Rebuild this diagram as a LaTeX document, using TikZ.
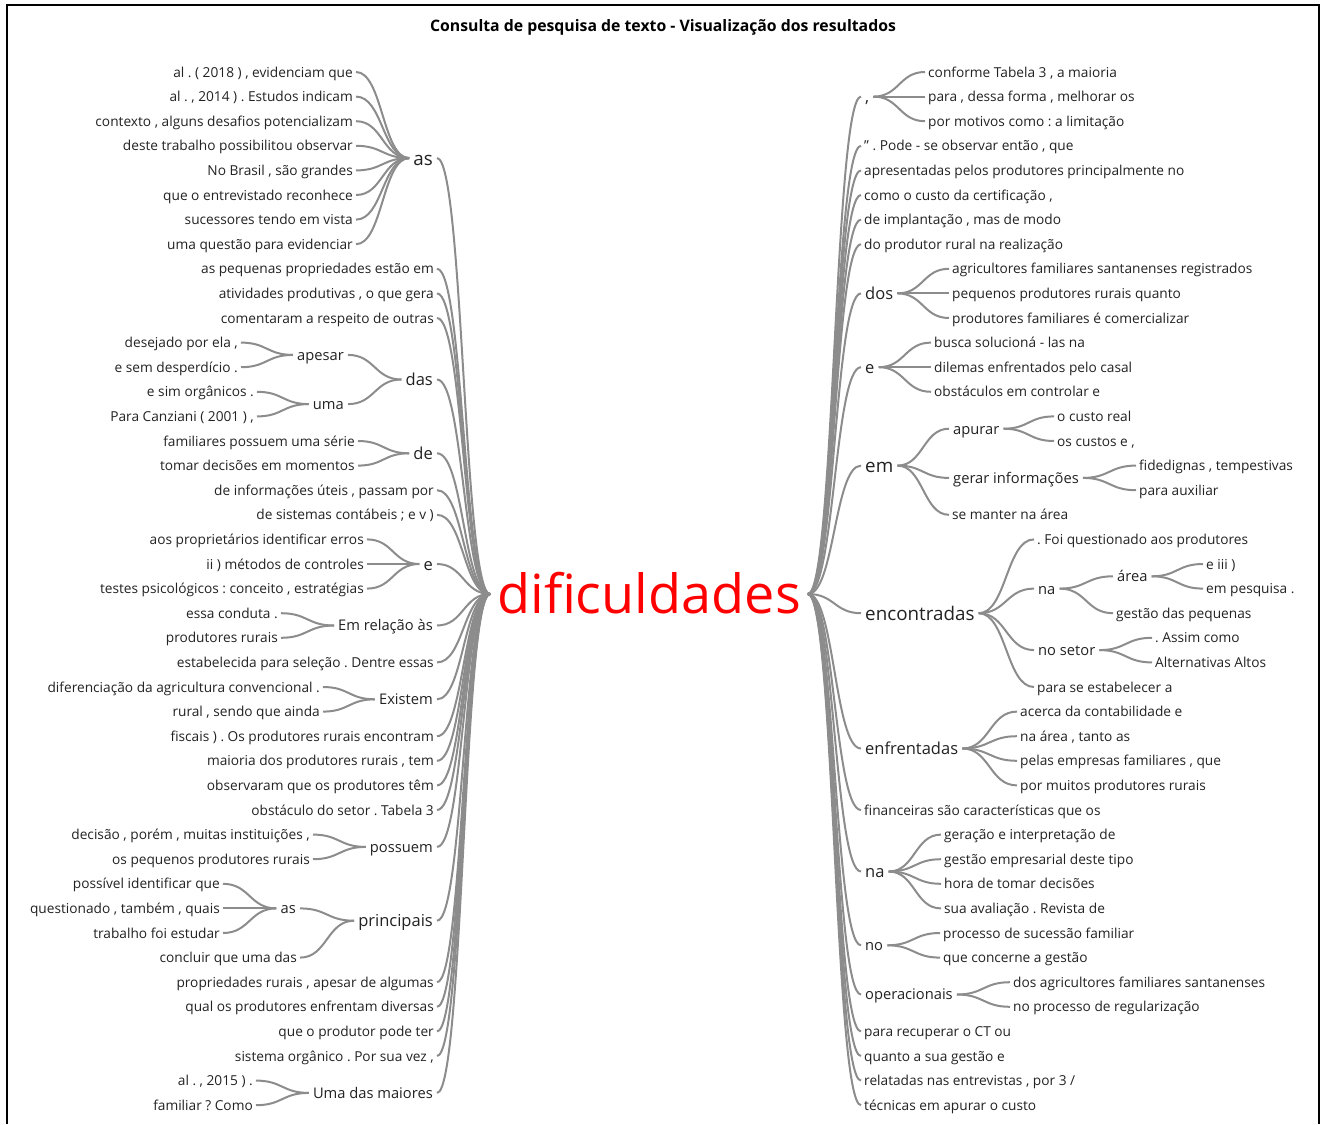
\documentclass[tikz,border=0pt]{standalone}
\usepackage{fontspec}
\setmainfont{Open Sans}
\usetikzlibrary{calc}
\frenchspacing

\definecolor{linkgray}{HTML}{8C8C8C}
\definecolor{wordgray}{HTML}{222222}
\definecolor{rootred}{HTML}{FF0000}

% y position of leaf row #1 (pixels from the top)
\newcommand{\rowy}[1]{72+24.6*(#1-1)}

\begin{document}
\begin{tikzpicture}[
x=1pt, y=-1pt,
word/.style={text=wordgray, inner xsep=3pt, inner ysep=0pt, text depth=0pt},
lf/.style={word, font=\fontsize{13.7}{16}\selectfont, text height=10.1pt},
mA/.style={word, font=\fontsize{14.7}{17}\selectfont, text height=10.9pt, inner xsep=4pt},
mB/.style={word, font=\fontsize{16.5}{19}\selectfont, text height=12.2pt, inner xsep=4pt},
mC/.style={word, font=\fontsize{18.8}{22}\selectfont, text height=13.9pt, inner xsep=4pt},
rootword/.style={text=rootred, font=\fontsize{54}{60}\selectfont, text height=39.5pt, text depth=0pt, inner xsep=7pt, inner ysep=0pt},
left/.style={anchor=east},
right/.style={anchor=west},
link/.style={draw=linkgray, line width=2pt}
]
\useasboundingbox (0,0) rectangle (1322,1124);

% frame and title
\draw[line width=1.2pt] (7,1124) -- (7,5) -- (1319,5) -- (1319,1124);
\node[font=\bfseries\fontsize{15.8}{18}\selectfont] (title) at (663,27) {Consulta de pesquisa de texto - Visualização dos resultados};

% root
\node[rootword] (root) at (649,594) {dificuldades};

% left side
\node[lf, left] (L1) at (356,{\rowy{1}}) {al . ( 2018 ) , evidenciam que};
\node[lf, left] (L2) at (356,{\rowy{2}}) {al . , 2014 ) . Estudos indicam};
\node[lf, left] (L3) at (356,{\rowy{3}}) {contexto , alguns desafios potencializam};
\node[lf, left] (L4) at (356,{\rowy{4}}) {deste trabalho possibilitou observar};
\node[lf, left] (L5) at (356,{\rowy{5}}) {No Brasil , são grandes};
\node[lf, left] (L6) at (356,{\rowy{6}}) {que o entrevistado reconhece};
\node[lf, left] (L7) at (356,{\rowy{7}}) {sucessores tendo em vista};
\node[lf, left] (L8) at (356,{\rowy{8}}) {uma questão para evidenciar};
\node[mC, left] (lAs) at (437,{\rowy{4.5}}) {as};
\node[lf, left] (L9) at (437,{\rowy{9}}) {as pequenas propriedades estão em};
\node[lf, left] (L10) at (437,{\rowy{10}}) {atividades produtivas , o que gera};
\node[lf, left] (L11) at (437,{\rowy{11}}) {comentaram a respeito de outras};
\node[lf, left] (L12) at (241,{\rowy{12}}) {desejado por ela ,};
\node[lf, left] (L13) at (241,{\rowy{13}}) {e sem desperdício .};
\node[mA, left] (lApesar) at (348,{\rowy{12.5}}) {apesar};
\node[lf, left] (L14) at (257,{\rowy{14}}) {e sim orgânicos .};
\node[lf, left] (L15) at (257,{\rowy{15}}) {Para Canziani ( 2001 ) ,};
\node[mA, left] (lUma) at (348,{\rowy{14.5}}) {uma};
\node[mB, left] (lDas) at (437,{\rowy{13.5}}) {das};
\node[lf, left] (L16) at (358,{\rowy{16}}) {familiares possuem uma série};
\node[lf, left] (L17) at (358,{\rowy{17}}) {tomar decisões em momentos};
\node[mB, left] (lDe) at (437,{\rowy{16.5}}) {de};
\node[lf, left] (L18) at (437,{\rowy{18}}) {de informações úteis , passam por};
\node[lf, left] (L19) at (437,{\rowy{19}}) {de sistemas contábeis ; e v )};
\node[lf, left] (L20) at (367,{\rowy{20}}) {aos proprietários identificar erros};
\node[lf, left] (L21) at (367,{\rowy{21}}) {ii ) métodos de controles};
\node[lf, left] (L22) at (367,{\rowy{22}}) {testes psicológicos : conceito , estratégias};
\node[mB, left] (lE) at (437,{\rowy{21}}) {e};
\node[lf, left] (L23) at (281,{\rowy{23}}) {essa conduta .};
\node[lf, left] (L24) at (281,{\rowy{24}}) {produtores rurais};
\node[mA, left] (lEmRel) at (437,{\rowy{23.5}}) {Em relação às};
\node[lf, left] (L25) at (437,{\rowy{25}}) {estabelecida para seleção . Dentre essas};
\node[lf, left] (L26) at (323,{\rowy{26}}) {diferenciação da agricultura convencional .};
\node[lf, left] (L27) at (323,{\rowy{27}}) {rural , sendo que ainda};
\node[mA, left] (lExistem) at (437,{\rowy{26.5}}) {Existem};
\node[lf, left] (L28) at (437,{\rowy{28}}) {fiscais ) . Os produtores rurais encontram};
\node[lf, left] (L29) at (437,{\rowy{29}}) {maioria dos produtores rurais , tem};
\node[lf, left] (L30) at (437,{\rowy{30}}) {observaram que os produtores têm};
\node[lf, left] (L31) at (437,{\rowy{31}}) {obstáculo do setor . Tabela 3};
\node[lf, left] (L32) at (313,{\rowy{32}}) {decisão , porém , muitas instituições ,};
\node[lf, left] (L33) at (313,{\rowy{33}}) {os pequenos produtores rurais};
\node[mA, left] (lPossuem) at (437,{\rowy{32.5}}) {possuem};
\node[lf, left] (L34) at (223,{\rowy{34}}) {possível identificar que};
\node[lf, left] (L35) at (223,{\rowy{35}}) {questionado , também , quais};
\node[lf, left] (L36) at (223,{\rowy{36}}) {trabalho foi estudar};
\node[mA, left] (lAs2) at (300,{\rowy{35}}) {as};
\node[lf, left] (L37) at (300,{\rowy{37}}) {concluir que uma das};
\node[mB, left] (lPrincipais) at (437,{\rowy{35.5}}) {principais};
\node[lf, left] (L38) at (437,{\rowy{38}}) {propriedades rurais , apesar de algumas};
\node[lf, left] (L39) at (437,{\rowy{39}}) {qual os produtores enfrentam diversas};
\node[lf, left] (L40) at (437,{\rowy{40}}) {que o produtor pode ter};
\node[lf, left] (L41) at (437,{\rowy{41}}) {sistema orgânico . Por sua vez ,};
\node[lf, left] (L42) at (256,{\rowy{42}}) {al . , 2015 ) .};
\node[lf, left] (L43) at (256,{\rowy{43}}) {familiar ? Como};
\node[mA, left] (lUmaDas) at (437,{\rowy{42.5}}) {Uma das maiores};

% right side
\node[mB, right] (rComma) at (861,{\rowy{2}}) {,};
\node[lf, right] (R1) at (925,{\rowy{1}}) {conforme Tabela 3 , a maioria};
\node[lf, right] (R2) at (925,{\rowy{2}}) {para , dessa forma , melhorar os};
\node[lf, right] (R3) at (925,{\rowy{3}}) {por motivos como : a limitação};
\node[lf, right] (R4) at (861,{\rowy{4}}) {" . Pode - se observar então , que};
\node[lf, right] (R5) at (861,{\rowy{5}}) {apresentadas pelos produtores principalmente no};
\node[lf, right] (R6) at (861,{\rowy{6}}) {como o custo da certificação ,};
\node[lf, right] (R7) at (861,{\rowy{7}}) {de implantação , mas de modo};
\node[lf, right] (R8) at (861,{\rowy{8}}) {do produtor rural na realização};
\node[mB, right] (rDos) at (861,{\rowy{10}}) {dos};
\node[lf, right] (R9) at (949,{\rowy{9}}) {agricultores familiares santanenses registrados};
\node[lf, right] (R10) at (949,{\rowy{10}}) {pequenos produtores rurais quanto};
\node[lf, right] (R11) at (949,{\rowy{11}}) {produtores familiares é comercializar};
\node[mB, right] (rE) at (861,{\rowy{13}}) {e};
\node[lf, right] (R12) at (931,{\rowy{12}}) {busca solucioná - las na};
\node[lf, right] (R13) at (931,{\rowy{13}}) {dilemas enfrentados pelo casal};
\node[lf, right] (R14) at (931,{\rowy{14}}) {obstáculos em controlar e};
\node[mC, right] (rEm) at (861,{\rowy{17}}) {em};
\node[mA, right] (rApurar) at (949,{\rowy{15.5}}) {apurar};
\node[lf, right] (R15) at (1054,{\rowy{15}}) {o custo real};
\node[lf, right] (R16) at (1054,{\rowy{16}}) {os custos e ,};
\node[mA, right] (rGerar) at (949,{\rowy{17.5}}) {gerar informações};
\node[lf, right] (R17) at (1136,{\rowy{17}}) {fidedignas , tempestivas};
\node[lf, right] (R18) at (1136,{\rowy{18}}) {para auxiliar};
\node[lf, right] (R19) at (949,{\rowy{19}}) {se manter na área};
\node[mC, right] (rEncontradas) at (861,{\rowy{23}}) {encontradas};
\node[lf, right] (R20) at (1034,{\rowy{20}}) {. Foi questionado aos produtores};
\node[mA, right] (rNa) at (1034,{\rowy{22}}) {na};
\node[mA, right] (rArea) at (1113,{\rowy{21.5}}) {área};
\node[lf, right] (R21) at (1203,{\rowy{21}}) {e iii )};
\node[lf, right] (R22) at (1203,{\rowy{22}}) {em pesquisa .};
\node[lf, right] (R23) at (1113,{\rowy{23}}) {gestão das pequenas};
\node[mA, right] (rNoSetor) at (1034,{\rowy{24.5}}) {no setor};
\node[lf, right] (R24) at (1152,{\rowy{24}}) {. Assim como};
\node[lf, right] (R25) at (1152,{\rowy{25}}) {Alternativas Altos};
\node[lf, right] (R26) at (1034,{\rowy{26}}) {para se estabelecer a};
\node[mB, right] (rEnfrentadas) at (861,{\rowy{28.5}}) {enfrentadas};
\node[lf, right] (R27) at (1017,{\rowy{27}}) {acerca da contabilidade e};
\node[lf, right] (R28) at (1017,{\rowy{28}}) {na área , tanto as};
\node[lf, right] (R29) at (1017,{\rowy{29}}) {pelas empresas familiares , que};
\node[lf, right] (R30) at (1017,{\rowy{30}}) {por muitos produtores rurais};
\node[lf, right] (R31) at (861,{\rowy{31}}) {financeiras são características que os};
\node[mB, right] (rNa2) at (861,{\rowy{33.5}}) {na};
\node[lf, right] (R32) at (941,{\rowy{32}}) {geração e interpretação de};
\node[lf, right] (R33) at (941,{\rowy{33}}) {gestão empresarial deste tipo};
\node[lf, right] (R34) at (941,{\rowy{34}}) {hora de tomar decisões};
\node[lf, right] (R35) at (941,{\rowy{35}}) {sua avaliação . Revista de};
\node[mA, right] (rNo) at (861,{\rowy{36.5}}) {no};
\node[lf, right] (R36) at (940,{\rowy{36}}) {processo de sucessão familiar};
\node[lf, right] (R37) at (940,{\rowy{37}}) {que concerne a gestão};
\node[mA, right] (rOper) at (861,{\rowy{38.5}}) {operacionais};
\node[lf, right] (R38) at (1010,{\rowy{38}}) {dos agricultores familiares santanenses};
\node[lf, right] (R39) at (1010,{\rowy{39}}) {no processo de regularização};
\node[lf, right] (R40) at (861,{\rowy{40}}) {para recuperar o CT ou};
\node[lf, right] (R41) at (861,{\rowy{41}}) {quanto a sua gestão e};
\node[lf, right] (R42) at (861,{\rowy{42}}) {relatadas nas entrevistas , por 3 /};
\node[lf, right] (R43) at (861,{\rowy{43}}) {técnicas em apurar o custo};

% links, left side (child -> parent)
\foreach \c/\p in {L1/lAs, L2/lAs, L3/lAs, L4/lAs, L5/lAs, L6/lAs, L7/lAs, L8/lAs,
  L12/lApesar, L13/lApesar, L14/lUma, L15/lUma, lApesar/lDas, lUma/lDas,
  L16/lDe, L17/lDe, L20/lE, L21/lE, L22/lE, L23/lEmRel, L24/lEmRel,
  L26/lExistem, L27/lExistem, L32/lPossuem, L33/lPossuem,
  L34/lAs2, L35/lAs2, L36/lAs2, lAs2/lPrincipais, L37/lPrincipais,
  L42/lUmaDas, L43/lUmaDas,
  lAs/root, L9/root, L10/root, L11/root, lDas/root, lDe/root, L18/root, L19/root,
  lE/root, lEmRel/root, L25/root, lExistem/root, L28/root, L29/root, L30/root,
  L31/root, lPossuem/root, lPrincipais/root, L38/root, L39/root, L40/root,
  L41/root, lUmaDas/root}
  \draw[link] (\c.east) .. controls ($(\c.east)!.5!(\p.west|-\c.east)$) and ($(\p.west)!.5!(\c.east|-\p.west)$) .. (\p.west);

% links, right side (parent -> child)
\foreach \p/\c in {root/rComma, root/R4, root/R5, root/R6, root/R7, root/R8,
  root/rDos, root/rE, root/rEm, root/rEncontradas, root/rEnfrentadas, root/R31,
  root/rNa2, root/rNo, root/rOper, root/R40, root/R41, root/R42, root/R43,
  rComma/R1, rComma/R2, rComma/R3, rDos/R9, rDos/R10, rDos/R11,
  rE/R12, rE/R13, rE/R14, rEm/rApurar, rEm/rGerar, rEm/R19,
  rApurar/R15, rApurar/R16, rGerar/R17, rGerar/R18,
  rEncontradas/R20, rEncontradas/rNa, rEncontradas/rNoSetor, rEncontradas/R26,
  rNa/rArea, rNa/R23, rArea/R21, rArea/R22, rNoSetor/R24, rNoSetor/R25,
  rEnfrentadas/R27, rEnfrentadas/R28, rEnfrentadas/R29, rEnfrentadas/R30,
  rNa2/R32, rNa2/R33, rNa2/R34, rNa2/R35, rNo/R36, rNo/R37, rOper/R38, rOper/R39}
  \draw[link] (\p.east) .. controls ($(\p.east)!.5!(\c.west|-\p.east)$) and ($(\c.west)!.5!(\p.east|-\c.west)$) .. (\c.west);

\end{tikzpicture}
\end{document}
